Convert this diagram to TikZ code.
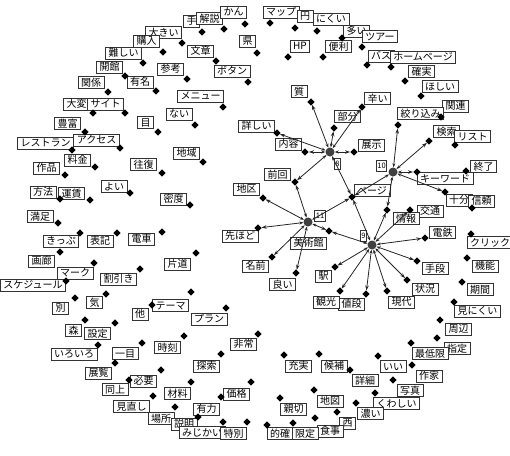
\documentclass[tikz,border=0pt]{standalone}
\usepackage{fontspec}
\setmainfont{Noto Sans CJK JP}
\usetikzlibrary{shapes.geometric,arrows.meta}
\tikzset{
 lab/.style={draw=black!80,line width=0.7pt,fill=white,font=\fontsize{10}{10}\selectfont,inner xsep=3pt,inner ysep=1pt,text height=8.5pt,text depth=1.5pt},
 dia/.style={diamond,fill=black,inner sep=0pt,minimum size=7.5pt},
 hub/.style={circle,fill=black!75,inner sep=0pt,minimum size=9pt},
 hublab/.style={draw=black!80,line width=0.7pt,fill=white,font=\fontsize{7.5}{7.5}\selectfont,inner sep=1pt,minimum height=11pt},
 arr/.style={line width=0.8pt,draw=black!85,{Stealth[length=4pt,width=3pt]}-{Stealth[length=5pt,width=3.5pt]}}
}
\newcommand\alllabels{%
\lbx{1}{182}{43}{163.5}{32.5}{大きい}
\lbx{2}{163}{52}{146.5}{41}{購入}
\lbx{3}{143}{63}{123.5}{53}{難しい}
\lbx{4}{125}{76}{109.5}{67}{開館}
\lbx{5}{156}{91}{140}{82}{有名}
\lbx{6}{108}{92}{91}{82.5}{関係}
\lbx{7}{93}{113}{76.5}{104}{大変}
\lbx{8}{125}{113}{105.5}{104}{サイト}
\lbx{9}{187}{79}{170.5}{69}{参考}
\lbx{10}{85}{132}{67.5}{123.5}{豊富}
\lbx{11}{158}{132}{145.5}{122.5}{目}
\lbx{12}{202}{32}{191.5}{21}{手}
\lbx{124}{224}{29}{209.5}{18.5}{解説}
\lbx{13}{245}{24}{233.5}{12.5}{かん}
\lbx{14}{270}{23}{281}{12.5}{マップ}
\lbx{15}{295}{28}{305}{16}{円}
\lbx{16}{317}{31}{331}{19}{にくい}
\lbx{17}{216}{61}{200.5}{51}{文章}
\lbx{18}{257}{53}{247.5}{41}{県}
\lbx{19}{288}{57}{300}{46}{HP}
\lbx{20}{323}{57}{338.5}{46.5}{便利}
\lbx{21}{248}{82}{232}{71}{ボタン}
\lbx{22}{223}{107}{200.5}{96}{メニュー}
\lbx{23}{311}{102}{299}{91.5}{質}
\lbx{24}{195}{125}{179}{114}{ない}
\lbx{25}{342}{38}{356.5}{31}{多い}
\lbx{26}{362}{47}{380}{36.5}{ツアー}
\lbx{27}{367}{65}{381}{56}{バス}
\lbx{28}{391}{67}{423}{57}{ホームページ}
\lbx{29}{405}{81}{421.5}{71.5}{確実}
\lbx{30}{421}{96}{440}{86.5}{ほしい}
\lbx{31}{362}{107}{377.5}{98.5}{辛い}
\lbx{32}{441}{117}{455.5}{106}{関連}
\lbx{33}{398}{125}{420.5}{113.5}{絞り込み}
\lbx{34}{334}{128}{347.5}{116.5}{部分}
\lbx{35}{354}{152}{371.5}{145}{展示}
\lbx{36}{429}{141}{446.5}{131.5}{検索}
\lbx{37}{455}{145}{472.5}{136.5}{リスト}
\lbx{38}{466}{171}{483.5}{166.5}{終了}
\lbx{39}{417}{172}{445}{178.5}{キーワード}
\lbx{40}{445}{192}{459}{200}{十分}
\lbx{41}{472}{208}{481.5}{201}{信頼}
\lbx{42}{352}{197}{372}{190.5}{ページ}
\lbx{43}{410}{210}{430}{211}{交通}
\lbx{44}{387}{210}{406}{218.5}{情報}
\lbx{45}{425}{238}{442.5}{232.5}{電鉄}
\lbx{46}{471}{234}{490}{242.5}{クリック}
\lbx{47}{417}{261}{435}{268.5}{手段}
\lbx{48}{467}{258}{485}{266}{機能}
\lbx{49}{407}{280}{425}{289}{状況}
\lbx{50}{462}{282}{480}{289.5}{期間}
\lbx{51}{387}{291}{401.5}{302}{現代}
\lbx{52}{366}{294}{351.5}{304}{値段}
\lbx{53}{340}{291}{326}{302}{観光}
\lbx{54}{335}{267}{323.5}{276}{駅}
\lbx{55}{454}{302}{477.5}{311}{見にくい}
\lbx{56}{440}{320}{458.5}{329}{周辺}
\lbx{57}{437}{338}{457}{348.5}{指定}
\lbx{58}{411}{343}{430}{353.5}{最低限}
\lbx{59}{378}{356}{393}{366.5}{いい}
\lbx{60}{412}{365}{429}{376}{作家}
\lbx{61}{350}{370}{365}{380.5}{詳細}
\lbx{62}{393}{380}{410}{390.5}{写真}
\lbx{63}{375}{393}{396.5}{403.5}{くわしい}
\lbx{64}{356}{403}{370.5}{413.5}{濃い}
\lbx{65}{337}{412}{347.5}{423}{西}
\lbx{66}{315}{418}{330}{431}{食事}
\lbx{67}{314}{390}{330}{401}{地図}
\lbx{68}{319}{354}{334}{366}{候補}
\lbx{69}{284}{355}{298.5}{366}{充実}
\lbx{70}{280}{398}{293.5}{409}{親切}
\lbx{71}{267}{425}{280}{433.5}{的確}
\lbx{72}{293}{423}{305}{433.5}{限定}
\lbx{73}{258}{334}{243.5}{344}{非常}
\lbx{74}{184}{336}{167.5}{347.5}{時刻}
\lbx{75}{221}{354}{206.5}{366}{探索}
\lbx{76}{191}{382}{177.5}{393.5}{材料}
\lbx{77}{251}{382}{236.5}{394}{価格}
\lbx{78}{221}{397}{206.5}{409}{有力}
\lbx{81}{175}{407}{161}{418.5}{場所}
\lbx{79}{198}{417}{184}{424}{説明}
\lbx{80}{223}{422}{202}{432.5}{みじかい}
\lbx{125}{247}{422}{233.5}{433.5}{特別}
\lbx{82}{153}{396}{131.5}{406.5}{見直し}
\lbx{83}{129}{380}{115}{389.5}{同上}
\lbx{84}{161}{370}{143.5}{381}{必要}
\lbx{85}{115}{363}{98.5}{373}{展覧}
\lbx{86}{98}{345}{74}{354}{いろいろ}
\lbx{87}{142}{343}{125}{353.5}{一目}
\lbx{88}{85}{320}{73.5}{330.5}{森}
\lbx{89}{115}{323}{97.5}{333.5}{設定}
\lbx{90}{75}{298}{60.5}{308}{別}
\lbx{91}{106}{294}{94.5}{302.5}{気}
\lbx{92}{152}{305}{140}{314}{他}
\lbx{93}{191}{292}{170.5}{305.5}{テーマ}
\lbx{94}{226}{308}{209}{319}{プラン}
\lbx{95}{196}{253}{177.5}{264}{片道}
\lbx{96}{66}{281}{33}{285}{スケジュール}
\lbx{97}{94}{263}{75}{273}{マーク}
\lbx{98}{140}{269}{118.5}{279}{割引き}
\lbx{99}{60}{252}{41.5}{261}{画廊}
\lbx{100}{80}{233}{61}{241}{きっぷ}
\lbx{101}{117}{233}{100}{241}{表記}
\lbx{102}{162}{232}{141.5}{239}{電車}
\lbx{103}{58}{223}{40}{216.5}{満足}
\lbx{104}{60}{199}{43}{192}{方法}
\lbx{105}{90}{200}{71.5}{193.5}{運賃}
\lbx{106}{130}{193}{114}{186.5}{よい}
\lbx{107}{65}{175}{46.5}{168}{作品}
\lbx{108}{95}{167}{77.5}{160}{料金}
\lbx{109}{72}{150}{45.5}{143}{レストラン}
\lbx{110}{120}{148}{96.5}{140}{アクセス}
\lbx{111}{162}{173}{143.5}{164.5}{往復}
\lbx{112}{190}{205}{173.5}{199}{密度}
\lbx{113}{203}{162}{186.5}{153}{地域}
\lbx{114}{277}{133}{256.5}{126}{詳しい}
\lbx{115}{305}{152}{288.5}{144}{内容}
\lbx{116}{295}{182}{277.5}{174.5}{前回}
\lbx{117}{263}{198}{246.5}{189}{地区}
\lbx{118}{258}{228}{240}{236}{先ほど}
\lbx{119}{329}{231}{308.5}{243}{美術館}
\lbx{120}{272}{257}{255.5}{266}{名前}
\lbx{121}{296}{273}{282.5}{284.5}{良い}
}
\begin{document}
\begin{tikzpicture}[x=1pt,y=-1pt]
\useasboundingbox (0,0) rectangle (510,455);
\fill[white] (0,0) rectangle (510,455);
% label boxes
\def\lbx#1#2#3#4#5#6{\node[lab] (w#1) at (#4,#5) {#6};}
\alllabels
% hub labels
\node[hublab] (l8) at (337.5,164) {8};
\node[hublab] (l10) at (381.5,165.5) {10};
\node[hublab] (l11) at (320,215.5) {11};
\node[hublab] (l9) at (363.5,236) {9};
% diamonds
\def\lbx#1#2#3#4#5#6{\node[dia] (d#1) at (#2,#3) {};}
\alllabels
% hubs
\node[hub] (h8) at (330,152) {};
\node[hub] (h10) at (393,172) {};
\node[hub] (h11) at (308,222) {};
\node[hub] (h9) at (372,245) {};
% connectors
\foreach \t in {23,34,31,114,115,35,116,42} \draw[arr] (h8) -- (d\t);
\foreach \t in {33,36,39,40,42,44} \draw[arr] (h10) -- (d\t);
\foreach \t in {116,117,118,120,121,42,119} \draw[arr] (h11) -- (d\t);
\foreach \t in {44,43,45,47,49,51,52,53,54,119,42} \draw[arr] (h9) -- (d\t);
\end{tikzpicture}
\end{document}
